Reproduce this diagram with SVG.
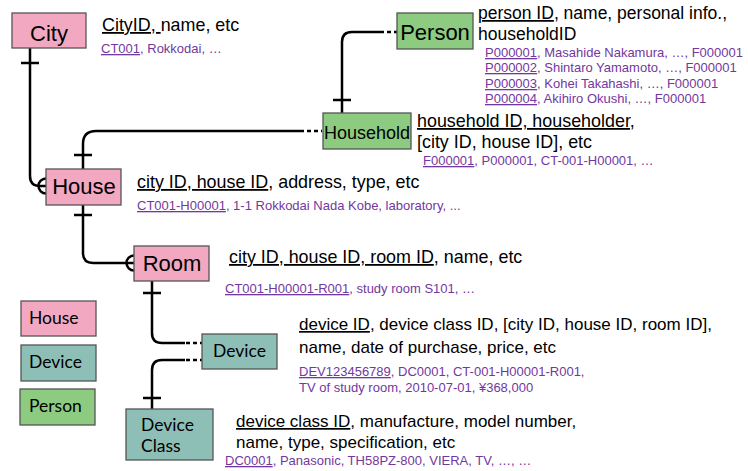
<svg xmlns="http://www.w3.org/2000/svg" width="748" height="471" viewBox="0 0 748 471">
<style>
.pink{fill:#F3A8C1;stroke:#555;stroke-width:1.3}
.green{fill:#8DCB81;stroke:#555;stroke-width:1.3}
.teal{fill:#8EBFB7;stroke:#555;stroke-width:1.3}
.big{font-family:"Liberation Sans",Arial,sans-serif;font-size:22px;fill:#000}
.mid{font-family:"Liberation Sans",Arial,sans-serif;font-size:18px;fill:#000}
.cal{font-family:Lato,"Open Sans",sans-serif;font-size:17.5px;fill:#000}
.desc{font-family:"Liberation Sans",Arial,sans-serif;font-size:17px;fill:#000}
.d18{font-size:17.9px}
.d175{font-size:17.5px}
.ex{font-family:"Liberation Sans",Arial,sans-serif;font-size:13px;fill:#7337A0}
.u{text-decoration:underline}
.ln{fill:none;stroke:#000;stroke-width:2.5}
.dash{fill:none;stroke:#000;stroke-width:2.5;stroke-dasharray:4 3}
.tick{stroke:#000;stroke-width:2.5}
</style>

<g id="connectors">
  <!-- City to House -->
  <path class="ln" d="M30,48 V176 Q30,186 40,186 H46"/>
  <line class="tick" x1="21" y1="63" x2="39" y2="63"/>
  <path class="ln" d="M46,178.5 A7.5,7.5 0 0 0 46,193.5"/>
  <!-- Household to House -->
  <path class="ln" d="M300,131 H96 Q83,131 83,144 V169"/>
  <path class="dash" d="M300,131 H322"/>
  <line class="tick" x1="74" y1="155" x2="92" y2="155"/>
  <!-- Person to Household -->
  <path class="ln" d="M380,32 H352 Q342,32 342,42 V113"/>
  <path class="dash" d="M380,32 H397"/>
  <line class="tick" x1="333" y1="100" x2="351" y2="100"/>
  <!-- House to Room -->
  <path class="ln" d="M83,205 V253 Q83,263 93,263 H134"/>
  <line class="tick" x1="74" y1="215" x2="92" y2="215"/>
  <path class="ln" d="M134,255.5 A7.5,7.5 0 0 0 134,270.5"/>
  <!-- Room to Device -->
  <path class="ln" d="M152,281 V333 Q152,343 162,343 H185"/>
  <path class="dash" d="M186,343 H203"/>
  <line class="tick" x1="143" y1="293" x2="161" y2="293"/>
  <!-- Device to Device Class -->
  <path class="dash" d="M186,360 H203"/>
  <path class="ln" d="M185,360 H162 Q152,360 152,370 V409"/>
  <line class="tick" x1="143" y1="398" x2="161" y2="398"/>
</g>

<g id="city">
  <rect class="pink" x="12" y="13" width="74" height="35"/>
  <text class="big" x="49" y="41" text-anchor="middle">City</text>
  <text class="desc d18" x="102" y="31"><tspan class="u">CityID, </tspan>name, etc</text>
  <text class="ex" x="101" y="53"><tspan class="u">CT001</tspan>, Rokkodai, …</text>
</g>

<g id="person">
  <rect class="green" x="397" y="13" width="76" height="36"/>
  <text class="big" x="435" y="40" text-anchor="middle">Person</text>
  <text class="desc d175" x="478" y="19"><tspan class="u">person ID</tspan>, name, personal info.,</text>
  <text class="desc d175" x="478" y="40">householdID</text>
  <text class="ex" x="485" y="57"><tspan class="u">P000001</tspan>, Masahide Nakamura, …, F000001</text>
  <text class="ex" x="485" y="72"><tspan class="u">P000002</tspan>, Shintaro Yamamoto, …, F000001</text>
  <text class="ex" x="485" y="88"><tspan class="u">P000003</tspan>, Kohei Takahashi, …, F000001</text>
  <text class="ex" x="485" y="103"><tspan class="u">P000004</tspan>, Akihiro Okushi, …, F000001</text>
</g>

<g id="household">
  <rect class="green" x="323" y="113" width="88" height="36"/>
  <text class="mid" x="367" y="139" text-anchor="middle">Household</text>
  <text class="desc d18" x="417" y="127"><tspan class="u">household ID, householder,</tspan></text>
  <text class="desc d18" x="417" y="148">[city ID, house ID], etc</text>
  <text class="ex" x="423" y="165"><tspan class="u">F000001</tspan>,  P000001, CT-001-H00001, …</text>
</g>

<g id="house">
  <rect class="pink" x="46" y="169" width="75" height="36"/>
  <text class="big" x="84" y="194" text-anchor="middle">House</text>
  <text class="desc d18" x="137" y="188"><tspan class="u">city ID, house ID</tspan>, address, type, etc</text>
  <text class="ex" x="137" y="210"><tspan class="u">CT001-H00001</tspan>, 1-1 Rokkodai Nada Kobe, laboratory, ...</text>
</g>

<g id="room">
  <rect class="pink" x="134" y="246" width="75" height="35"/>
  <text class="big" x="172" y="271" text-anchor="middle">Room</text>
  <text class="desc d18" x="229" y="263"><tspan class="u">city ID, house ID, room ID</tspan>, name, etc</text>
  <text class="ex" x="225" y="293"><tspan class="u">CT001-H00001-R001</tspan>, study room S101, …</text>
</g>

<g id="device">
  <rect class="teal" x="202" y="334" width="75" height="35"/>
  <text class="cal" x="239.5" y="357" text-anchor="middle">Device</text>
  <text class="desc" x="299" y="330"><tspan class="u">device ID</tspan>, device class ID, [city ID, house ID, room ID],</text>
  <text class="desc" x="299" y="353">name, date of purchase, price, etc</text>
  <text class="ex" x="299" y="376"><tspan class="u">DEV123456789</tspan>, DC0001, CT-001-H00001-R001,</text>
  <text class="ex" x="299" y="392">TV of study room, 2010-07-01, ¥368,000</text>
</g>

<g id="device-class">
  <rect class="teal" x="126" y="409" width="87" height="51"/>
  <text class="cal" x="141" y="431">Device</text>
  <text class="cal" x="141" y="452">Class</text>
  <text class="desc" x="236" y="427"><tspan class="u">device class ID</tspan>, manufacture, model number,</text>
  <text class="desc" x="236" y="448">name, type, specification, etc</text>
  <text class="ex" x="225" y="465"><tspan class="u">DC0001</tspan>, Panasonic, TH58PZ-800, VIERA, TV, …, …</text>
</g>

<g id="legend">
  <g id="legend-house">
    <rect class="pink" x="21" y="301" width="75" height="35"/>
    <text class="cal" x="29" y="324">House</text>
  </g>
  <g id="legend-device">
    <rect class="teal" x="21" y="345" width="75" height="36"/>
    <text class="cal" x="29" y="368">Device</text>
  </g>
  <g id="legend-person">
    <rect class="green" x="20" y="389" width="75" height="36"/>
    <text class="cal" x="29" y="412">Person</text>
  </g>
</g>
</svg>
